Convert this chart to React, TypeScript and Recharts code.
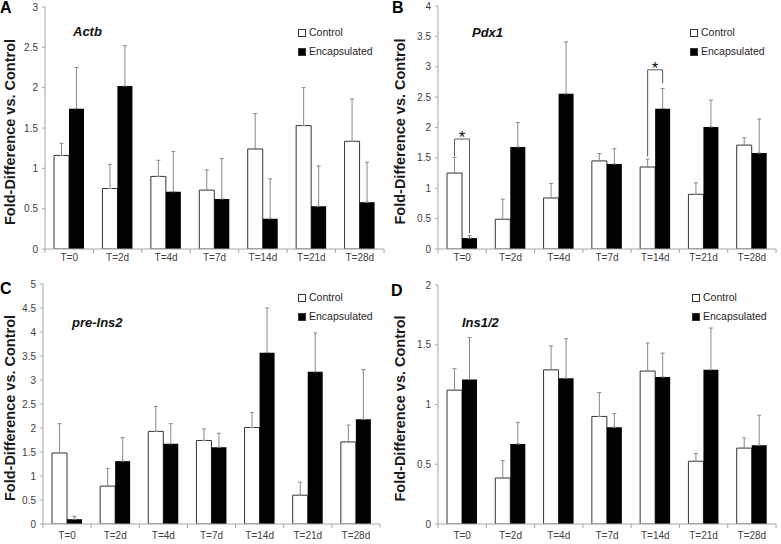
import React from 'react';
import { BarChart, Bar, XAxis, YAxis, ErrorBar, Legend, Rectangle } from 'recharts';

const categories = ['T=0', 'T=2d', 'T=4d', 'T=7d', 'T=14d', 'T=21d', 'T=28d'];
const seriesNames = ['Control', 'Encapsulated'];

// Panel A - Actb
const actbControl = [1.16, 0.75, 0.9, 0.73, 1.24, 1.53, 1.335];
const actbControlErr = [0.15, 0.3, 0.2, 0.25, 0.44, 0.47, 0.525];
const actbEnc = [1.74, 2.02, 0.71, 0.62, 0.375, 0.53, 0.58];
const actbEncErr = [0.51, 0.5, 0.5, 0.5, 0.495, 0.5, 0.495];
const actbTicks = [0, 0.5, 1, 1.5, 2, 2.5, 3];

// Panel B - Pdx1
const pdx1Control = [1.25, 0.49, 0.84, 1.45, 1.35, 0.9, 1.71];
const pdx1ControlErr = [0.26, 0.33, 0.24, 0.12, 0.13, 0.19, 0.12];
const pdx1Enc = [0.18, 1.68, 2.555, 1.4, 2.31, 2.01, 1.58];
const pdx1EncErr = [0.04, 0.4, 0.855, 0.25, 0.33, 0.44, 0.56];
const pdx1Ticks = [0, 0.5, 1, 1.5, 2, 2.5, 3, 3.5, 4];

// Panel C - pre-Ins2
const preIns2Control = [1.48, 0.79, 1.93, 1.74, 2.01, 0.6, 1.71];
const preIns2ControlErr = [0.61, 0.37, 0.52, 0.24, 0.31, 0.27, 0.35];
const preIns2Enc = [0.1, 1.31, 1.67, 1.6, 3.57, 3.17, 2.18];
const preIns2EncErr = [0.06, 0.49, 0.42, 0.29, 0.93, 0.81, 1.04];
const preIns2Ticks = [0, 0.5, 1, 1.5, 2, 2.5, 3, 3.5, 4, 4.5, 5];

// Panel D - Ins1/2
const ins12Control = [1.12, 0.385, 1.29, 0.9, 1.28, 0.525, 0.635];
const ins12ControlErr = [0.18, 0.145, 0.2, 0.2, 0.235, 0.065, 0.085];
const ins12Enc = [1.21, 0.67, 1.22, 0.81, 1.23, 1.29, 0.66];
const ins12EncErr = [0.35, 0.18, 0.33, 0.115, 0.2, 0.35, 0.25];
const ins12Ticks = [0, 0.5, 1, 1.5, 2];

// Significance brackets (Pdx1): category, left leg bottom, bracket top, right leg bottom
const pdx1BracketCats = ['T=0', 'T=14d'];
const pdx1BracketLeft = [1.53, 1.52];
const pdx1BracketTop = [1.81, 2.95];
const pdx1BracketRight = [0.26, 2.725];

const FONT = '"Liberation Sans", Arial, sans-serif';
const AXIS = '#a6a6a6';
const TEXT = '#404040';
const ERR = '#8a8a8a';
const BRACKET = '#595959';

type Bracket = { cat: string; left: number; top: number; right: number };

type Cfg = {
  letter: string;
  title: string;
  left: number;
  top: number;
  w: number;
  h: number;
  yw: number;
  margin: { top: number; right: number; bottom: number; left: number };
  xh: number;
  tickMargin: number;
  ticks: number[];
  ctrl: number[];
  ctrlErr: number[];
  enc: number[];
  encErr: number[];
  letterPos: [number, number];
  titlePos: [number, number];
  legendPos: [number, number];
  brackets?: Bracket[];
};

const pdx1Brackets: Bracket[] = pdx1BracketCats.map((cat, i) => ({
  cat, left: pdx1BracketLeft[i], top: pdx1BracketTop[i], right: pdx1BracketRight[i],
}));

const panels: Cfg[] = [
  {
    letter: 'A', title: 'Actb', left: 0, top: 0, w: 390, h: 272, yw: 45,
    margin: { top: 7, right: 6, bottom: 2, left: 0 }, xh: 21, tickMargin: 5,
    ticks: actbTicks, ctrl: actbControl, ctrlErr: actbControlErr, enc: actbEnc, encErr: actbEncErr,
    letterPos: [0, 0], titlePos: [73, 24], legendPos: [298, 23],
  },
  {
    letter: 'B', title: 'Pdx1', left: 390, top: 0, w: 391, h: 272, yw: 48,
    margin: { top: 6, right: 5, bottom: 2, left: 0 }, xh: 21, tickMargin: 5,
    ticks: pdx1Ticks, ctrl: pdx1Control, ctrlErr: pdx1ControlErr, enc: pdx1Enc, encErr: pdx1EncErr,
    letterPos: [2, 0], titlePos: [82, 25], legendPos: [300, 23], brackets: pdx1Brackets,
  },
  {
    letter: 'C', title: 'pre-Ins2', left: 0, top: 272, w: 390, h: 272, yw: 43,
    margin: { top: 12, right: 10, bottom: 0, left: 0 }, xh: 20, tickMargin: 8,
    ticks: preIns2Ticks, ctrl: preIns2Control, ctrlErr: preIns2ControlErr, enc: preIns2Enc, encErr: preIns2EncErr,
    letterPos: [0, 9], titlePos: [72, 43], legendPos: [298, 16],
  },
  {
    letter: 'D', title: 'Ins1/2', left: 390, top: 272, w: 391, h: 272, yw: 48,
    margin: { top: 13, right: 5, bottom: 0, left: 0 }, xh: 20, tickMargin: 8,
    ticks: ins12Ticks, ctrl: ins12Control, ctrlErr: ins12ControlErr, enc: ins12Enc, encErr: ins12EncErr,
    letterPos: [1, 11], titlePos: [72, 43], legendPos: [302, 16],
  },
];

const legendFills = ['#ffffff', '#000000'];

function LegendBox() {
  return (
    <div style={{ fontFamily: FONT, fontSize: 10.5, color: '#262626', lineHeight: '19px' }}>
      {seriesNames.map((n, i) => (
        <div key={n} style={{ display: 'flex', alignItems: 'center', whiteSpace: 'nowrap' }}>
          <span
            style={{
              display: 'inline-block', width: 6, height: 6, border: '1px solid #333',
              background: legendFills[i], marginRight: 3,
            }}
          />
          {n}
        </div>
      ))}
    </div>
  );
}

function YLabel(props: any) {
  const vb = props.viewBox || {};
  const x = 10;
  const y = (vb.y || 0) + (vb.height || 0) / 2 + 4;
  return (
    <text
      x={x} y={y} transform={`rotate(-90, ${x}, ${y})`} textAnchor="middle" dominantBaseline="central"
      style={{ fontFamily: FONT, fontSize: 14.5, fontWeight: 'bold', fill: '#1a1a1a' }}
    >
      Fold-Difference vs. Control
    </text>
  );
}

// Category tick: label at the band centre, small tick marks at the band boundaries.
function makeCatTick(tickMargin: number, count: number) {
  return function CatTick(props: any) {
    const { x, y, payload } = props;
    const off = (payload && payload.offset) || 0;
    const axisY = y - tickMargin;
    const idx = payload ? payload.index : 0;
    return (
      <g>
        <line x1={x - off} y1={axisY} x2={x - off} y2={axisY + 4} stroke={AXIS} />
        {idx === count - 1 && <line x1={x + off} y1={axisY} x2={x + off} y2={axisY + 4} stroke={AXIS} />}
        <text x={x} y={y} dy="0.71em" textAnchor="middle" fill={TEXT} fontSize={10} fontFamily={FONT}>
          {payload ? payload.value : ''}
        </text>
      </g>
    );
  };
}

// Control bar with optional significance bracket drawn from the bar's own geometry.
function makeControlShape(brackets: Bracket[]) {
  return function ControlShape(p: any) {
    const rect = (
      <Rectangle x={p.x} y={p.y} width={p.width} height={p.height} fill="#ffffff" stroke="#333333" strokeWidth={1} />
    );
    const cat = p.payload ? p.payload.cat : undefined;
    const br = brackets.find((b) => b.cat === cat);
    if (!br) return rect;
    const v = p.payload.control;
    const ppu = p.height / v;
    const base = p.y + p.height;
    const toY = (val: number) => base - val * ppu;
    const xl = p.x + p.width / 2;
    const xr = p.x + p.width * 1.5;
    const yt = toY(br.top);
    return (
      <g>
        {rect}
        <polyline
          points={`${xl},${toY(br.left)} ${xl},${yt} ${xr},${yt} ${xr},${toY(br.right)}`}
          fill="none" stroke={BRACKET} strokeWidth={1}
        />
        <text x={(xl + xr) / 2} y={yt + 4} textAnchor="middle" fontSize={17} fontFamily={FONT} fill="#111">
          *
        </text>
      </g>
    );
  };
}

function Panel({ cfg }: { cfg: Cfg }) {
  const rows = categories.map((cat, i) => ({
    cat,
    control: cfg.ctrl[i],
    encapsulated: cfg.enc[i],
    controlErr: [0, cfg.ctrlErr[i]],
    encErr: [0, cfg.encErr[i]],
  }));
  const yMax = cfg.ticks[cfg.ticks.length - 1];
  const CatTick = makeCatTick(cfg.tickMargin, categories.length);
  const ControlShape = makeControlShape(cfg.brackets || []);
  return (
    <div style={{ position: 'absolute', left: cfg.left, top: cfg.top, width: cfg.w, height: cfg.h }}>
      <BarChart width={cfg.w} height={cfg.h} data={rows} margin={cfg.margin} barSize={15} barGap={0}>
        <XAxis
          dataKey="cat" stroke={AXIS} tickLine={false} tickSize={0}
          tickMargin={cfg.tickMargin} height={cfg.xh} interval={0}
          tick={(p: any) => <CatTick {...p} />}
        />
        <YAxis
          domain={[0, yMax]} ticks={cfg.ticks} width={cfg.yw} tickSize={3} tickMargin={4}
          stroke={AXIS} interval={0} allowDataOverflow
          tick={{ fill: TEXT, fontSize: 10, fontFamily: FONT }}
          label={{ content: (p: any) => <YLabel {...p} /> }}
        />
        <Bar
          dataKey="control" name={seriesNames[0]} fill="#ffffff" stroke="#333333" strokeWidth={1}
          isAnimationActive={false} shape={(p: any) => <ControlShape {...p} />}
        >
          <ErrorBar dataKey="controlErr" width={2} stroke={ERR} strokeWidth={1} direction="y" />
        </Bar>
        <Bar dataKey="encapsulated" name={seriesNames[1]} fill="#000000" isAnimationActive={false}>
          <ErrorBar dataKey="encErr" width={2} stroke={ERR} strokeWidth={1} direction="y" />
        </Bar>
        <Legend
          layout="vertical" align="center" verticalAlign="middle"
          content={() => <LegendBox />}
          wrapperStyle={{ left: cfg.legendPos[0], top: cfg.legendPos[1], width: 'auto', height: 'auto' }}
        />
      </BarChart>
      <div style={{
        position: 'absolute', left: cfg.letterPos[0], top: cfg.letterPos[1], fontFamily: FONT,
        fontSize: 16, lineHeight: '16px', fontWeight: 'bold', color: '#000',
      }}>{cfg.letter}</div>
      <div style={{
        position: 'absolute', left: cfg.titlePos[0], top: cfg.titlePos[1], fontFamily: FONT,
        fontSize: 13, lineHeight: '16px', fontWeight: 'bold', fontStyle: 'italic', color: '#111',
        whiteSpace: 'nowrap',
      }}>{cfg.title}</div>
    </div>
  );
}

export default function App() {
  return (
    <div style={{ position: 'absolute', left: 0, top: 0, width: 781, height: 544, background: '#fff', overflow: 'hidden' }}>
      {panels.map((p) => (
        <Panel key={p.letter} cfg={p} />
      ))}
    </div>
  );
}
